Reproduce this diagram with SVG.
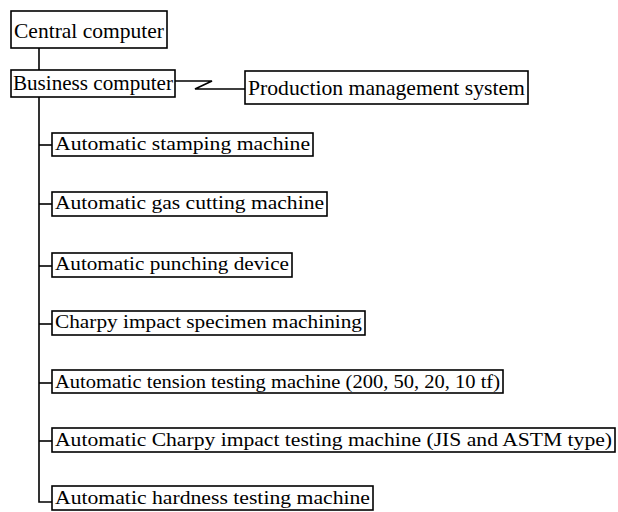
<svg xmlns="http://www.w3.org/2000/svg" width="618" height="512" viewBox="0 0 618 512">
<style>
rect.box{fill:#fff;stroke:#000;stroke-width:1.6}
.c{fill:none;stroke:#000;stroke-width:1.6}
text{font-family:"Liberation Serif","DejaVu Serif",serif;fill:#000}
.t{font-size:21px}
.s{font-size:19px}
</style>
<rect width="618" height="512" fill="#fff"/>
<g id="connectors">
<line class="c" x1="39" y1="48" x2="39" y2="70"/>
<polyline class="c" points="39,97 39,502 52,502"/>
<line class="c" x1="39" y1="145" x2="52" y2="145"/>
<line class="c" x1="39" y1="204" x2="52" y2="204"/>
<line class="c" x1="39" y1="266" x2="52" y2="266"/>
<line class="c" x1="39" y1="324" x2="52" y2="324"/>
<line class="c" x1="39" y1="383" x2="52" y2="383"/>
<line class="c" x1="39" y1="441" x2="52" y2="441"/>
<polyline class="c" points="175,81 212,81 195,89 245,89"/>
</g>
<g id="central"><rect class="box" x="11" y="11" width="156" height="37"/><text class="t" x="14" y="38" textLength="150" lengthAdjust="spacingAndGlyphs">Central computer</text></g>
<g id="business"><rect class="box" x="11" y="70" width="164" height="27"/><text class="t" x="13" y="90" textLength="160" lengthAdjust="spacingAndGlyphs">Business computer</text></g>
<g id="production"><rect class="box" x="245" y="71" width="283" height="33"/><text class="t" x="248" y="95" textLength="277" lengthAdjust="spacingAndGlyphs">Production management system</text></g>
<g id="stamping"><rect class="box" x="52" y="133" width="261" height="23"/><text class="s" x="55" y="150" textLength="255" lengthAdjust="spacingAndGlyphs">Automatic stamping machine</text></g>
<g id="gascutting"><rect class="box" x="52" y="192" width="275" height="24"/><text class="s" x="55" y="209" textLength="269" lengthAdjust="spacingAndGlyphs">Automatic gas cutting machine</text></g>
<g id="punching"><rect class="box" x="52" y="253" width="240" height="24"/><text class="s" x="55" y="270" textLength="234" lengthAdjust="spacingAndGlyphs">Automatic punching device</text></g>
<g id="specimen"><rect class="box" x="52" y="311" width="313" height="24"/><text class="s" x="55" y="328" textLength="307" lengthAdjust="spacingAndGlyphs">Charpy impact specimen machining</text></g>
<g id="tension"><rect class="box" x="52" y="370" width="451" height="23"/><text class="s" x="55" y="388" textLength="445" lengthAdjust="spacingAndGlyphs">Automatic tension testing machine (200, 50, 20, 10 tf)</text></g>
<g id="charpy"><rect class="box" x="52" y="428" width="563" height="24"/><text class="s" x="55" y="446" textLength="557" lengthAdjust="spacingAndGlyphs">Automatic Charpy impact testing machine (JIS and ASTM type)</text></g>
<g id="hardness"><rect class="box" x="52" y="486" width="321" height="24"/><text class="s" x="55" y="504" textLength="315" lengthAdjust="spacingAndGlyphs">Automatic hardness testing machine</text></g>
</svg>
